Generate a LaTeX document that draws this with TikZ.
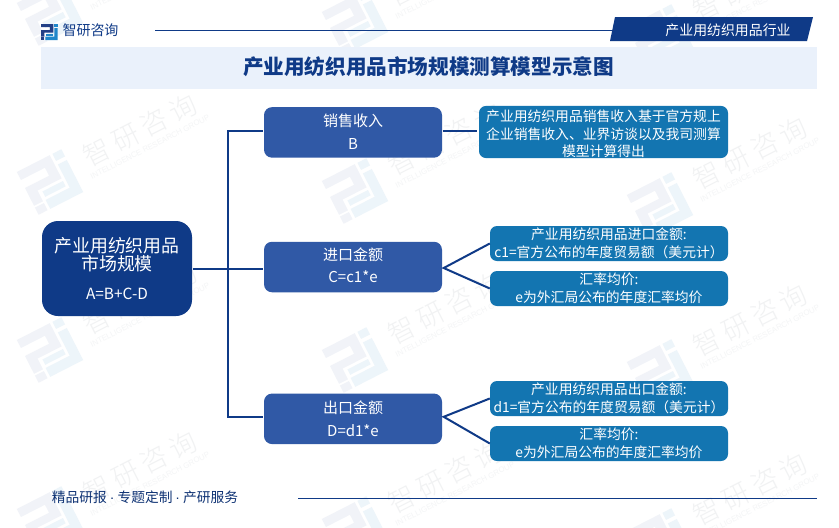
\documentclass[tikz,border=0pt]{standalone}
\usepackage{fontspec}
\setmainfont{Noto Sans CJK SC}
\setsansfont{Noto Sans CJK SC}
\newfontfamily\wmlatin{Liberation Sans}
\newfontfamily\wmcjk[LetterSpace=20]{Noto Sans CJK SC Light}
\definecolor{navy}{HTML}{0F3A87}
\definecolor{midblue}{HTML}{3059A6}
\definecolor{tealblue}{HTML}{1375B1}
\definecolor{bandblue}{HTML}{EAF1FB}
\definecolor{logoblue}{HTML}{1F86C9}
\definecolor{logonavy}{HTML}{223F86}
\definecolor{wmgrey}{HTML}{F1F2F3}
\definecolor{wmgreyb}{HTML}{F4F5F6}
\definecolor{wmdark}{HTML}{F1F3F8}
\definecolor{wmlight}{HTML}{EDF5FA}
\newcommand{\fsz}[2]{\fontsize{#1}{#2}\selectfont}
\newcommand{\dropdepth}[1]{\rule[-#1]{0pt}{#1}}
\newcommand{\logomark}[2]{%
  \fill[#1] (0,0) -- (37,0) -- (37,26) -- (10,26) -- (10,38) -- (0,38) -- (0,18) -- (27,18) -- (27,9) -- (0,9) -- cycle;
  \fill[#1] (0,40) rectangle (10,48);
  \fill[#2] (40,0) rectangle (50,8);
  \fill[#2] (40,12) -- (50,12) -- (50,48) -- (13,48) -- (13,38) -- (40,38) -- cycle;
  \fill[#2] (14,29) -- (37,29) -- (37,35) -- (14,35) -- cycle;
}
\tikzset{
  mainbox/.style={fill=navy,rounded corners=16pt,text=white,minimum width=150pt,minimum height=95pt,inner sep=0pt,align=center},
  midbox/.style={fill=midblue,rounded corners=8pt,text=white,minimum width=178pt,minimum height=50.5pt,inner sep=0pt,align=center,font=\fsz{15}{22.5}},
  notebox/.style={fill=tealblue,rounded corners=7pt,text=white,inner sep=0pt,align=center,font=\fsz{13.8}{17.5}},
  link/.style={draw=navy,line width=2pt},
  thinrule/.style={draw=navy,line width=1.2pt},
  wmtext/.style={text=wmgrey,font=\wmcjk\fsz{27}{30},rotate=27,inner sep=0pt},
  wmsmall/.style={text=wmgreyb,font=\wmlatin\fsz{7.8}{10},rotate=27,inner sep=0pt}
}
\begin{document}
\begin{tikzpicture}[x=1pt,y=-1pt]
\useasboundingbox (0,0) rectangle (839,528);
\fill[white] (0,0) rectangle (839,528);
% watermarks
\begin{scope}
\clip (0,0) rectangle (839,528);
\foreach \cx/\cy [count=\n] in {50/13,50/182,50/350,50/519,355/22,355/191,355/360,355/529,660/37,660/205,660/372,660/541}{
  \begin{scope}[shift={(\cx,\cy)},rotate=27,shift={(-25,-24)}]
    \logomark{wmdark}{wmlight}
  \end{scope}
  \node[wmtext] (wm\n) at (\cx+90,\cy-52) {智研咨询};
  \node[wmsmall] (wmb\n) at (\cx+100,\cy-35) {INTELLIGENCE RESEARCH GROUP};
}
\end{scope}
% header
\begin{scope}[shift={(41,24)},scale=0.3333]
  \logomark{logonavy}{logoblue}
\end{scope}
\node[text=navy,font=\fsz{14}{16},anchor=center,inner sep=0pt] (brand) at (90.5,30) {智研咨询};
\coordinate (ruleA) at (155,30.3);
\coordinate (flagL) at (612.5,30.3);
\draw[thinrule] (ruleA) -- (flagL);
\fill[navy] (615,17) -- (813,17) -- (807,41) -- (610,41) -- cycle;
\node[text=white,font=\fsz{13.9}{16},inner sep=0pt] (flag) at (728,30) {产业用纺织用品行业};
\fill[bandblue] (41,47) rectangle (817,89);
\node[text=navy,font=\bfseries\fsz{20.6}{24},inner sep=0pt] (title) at (428.5,66.5) {产业用纺织用品市场规模测算模型示意图};
% boxes
\node[mainbox] (main) at (117,268.5) {\fsz{17.9}{19}产业用纺织用品\\\fsz{17.9}{19}市场规模\\[15pt]\fsz{15.4}{19}A=B+C-D};
\node[midbox] (midB) at (353,132.4) {销售收入\\B\dropdepth{1.4pt}};
\node[midbox] (midC) at (353,267) {进口金额\\C=c1*e\dropdepth{3.4pt}};
\node[midbox] (midD) at (353,418.8) {出口金额\\D=d1*e};
\node[notebox,minimum width=249pt,minimum height=50pt] (noteB) at (603.5,132) {\rule{0pt}{16pt}产业用纺织用品销售收入基于官方规上\\企业销售收入、业界访谈以及我司测算\\模型计算得出};
\node[notebox,minimum width=238pt,minimum height=35pt] (noteC1) at (609,243.5) {产业用纺织用品进口金额:\\c1=官方公布的年度贸易额（美元计）};
\node[notebox,minimum width=238pt,minimum height=35pt] (noteC2) at (609,288.5) {汇率均价:\\e为外汇局公布的年度汇率均价};
\node[notebox,minimum width=238pt,minimum height=35pt] (noteD1) at (609,398.5) {产业用纺织用品出口金额:\\d1=官方公布的年度贸易额（美元计）};
\node[notebox,minimum width=238pt,minimum height=35pt] (noteD2) at (609,443.5) {汇率均价:\\e为外汇局公布的年度汇率均价};
% connectors
\coordinate (bus) at (228,268.7);
\coordinate (linkB) at ([xshift=1pt,yshift=1.5pt]midB.east);
\draw[link,line join=miter] ([xshift=-1pt,yshift=1.5pt]midB.west) -| (bus) |- ([xshift=-1pt,yshift=2pt]midD.west);
\draw[link] ([xshift=1pt]main.east |- bus) -- ([xshift=-1pt]midC.west |- bus);
\draw[link] (linkB) -- ([xshift=-1.5pt]noteB.west |- linkB);
\draw[link,line join=miter] (noteC1.west) -- ([xshift=1.5pt,yshift=-1pt]midC.east) -- (noteC2.west);
\draw[link,line join=miter] (noteD1.west) -- ([xshift=1.5pt,yshift=2pt]midD.east) -- (noteD2.west);
% footer
\node[text=navy!85!black,font=\fsz{13.75}{16},inner sep=0pt] (foot) at (145,497) {精品研报\hspace{3pt}{\wmlatin·}\hspace{3pt}专题定制\hspace{3pt}{\wmlatin·}\hspace{3pt}产研服务};
\coordinate (ruleB) at (298,498.3);
\coordinate (ruleC) at (817,498.3);
\draw[thinrule] (ruleB) -- (ruleC);
\end{tikzpicture}
\end{document}
